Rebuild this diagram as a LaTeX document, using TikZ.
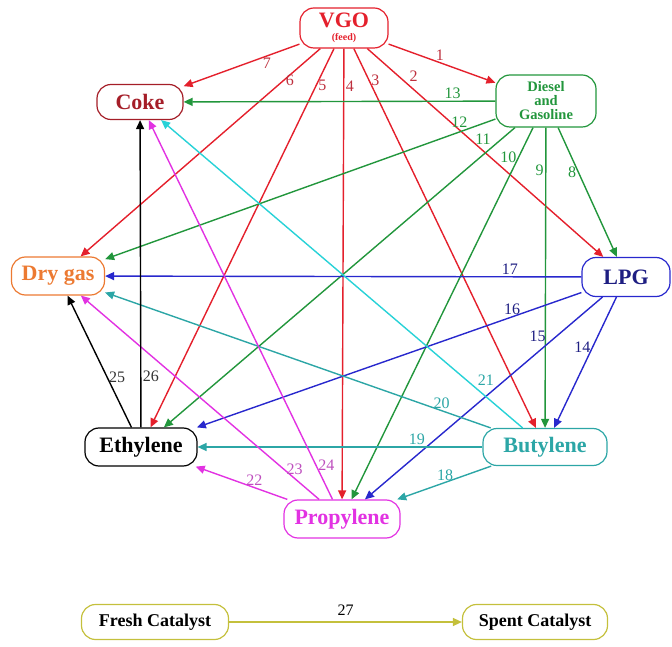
\documentclass[tikz,border=0pt]{standalone}
\usepackage{fontspec}
\setmainfont{Liberation Serif}
\usetikzlibrary{arrows.meta}
\definecolor{vgored}{RGB}{228,32,44}
\definecolor{numred}{RGB}{190,48,62}
\definecolor{cokered}{RGB}{165,30,40}
\definecolor{dgreen}{RGB}{34,150,60}
\definecolor{dryorange}{RGB}{236,122,50}
\definecolor{lpgblue}{RGB}{40,40,205}
\definecolor{lpgnavy}{RGB}{30,30,130}
\definecolor{butteal}{RGB}{44,166,166}
\definecolor{butcyan}{RGB}{40,210,215}
\definecolor{propmag}{RGB}{226,50,226}
\definecolor{nummag}{RGB}{190,80,190}
\definecolor{catyellow}{RGB}{196,192,60}

\begin{document}
\begin{tikzpicture}[x=1pt,y=1pt,line width=1.4pt,>={Triangle[length=9pt,width=8pt]},
  box/.style={draw,rounded corners=14pt,line width=1.2pt,minimum height=38pt,inner sep=2pt,
    font=\bfseries\fontsize{22}{24}\selectfont},
  catbox/.style={box,draw=catyellow,text=black,minimum height=35pt,font=\bfseries\fontsize{18}{20}\selectfont},
  num/.style={font=\fontsize{16}{16}\selectfont,inner sep=1.5pt}]
  \useasboundingbox (0,0) rectangle (672,646);
  \node[box,vgored,minimum width=88pt,minimum height=40pt,align=center] (vgo) at (344,618)
    {VGO\\[-11pt]{\fontsize{10}{10}\selectfont(feed)}};
  \node[box,dgreen,minimum width=100pt,minimum height=52pt,align=center,
    font=\bfseries\fontsize{14.5}{14}\selectfont] (dg) at (546,545) {Diesel\\and\\Gasoline};
  \node[box,cokered,minimum width=86pt,minimum height=35pt] (coke) at (140,544) {Coke};
  \node[box,dryorange,minimum width=93pt] (dry) at (58,370) {Dry gas};
  \node[box,draw=lpgblue,text=lpgnavy,minimum width=88pt,minimum height=39pt] (lpg) at (626,369) {LPG};
  \node[box,black,minimum width=112pt] (eth) at (141,199) {Ethylene};
  \node[box,butteal,minimum width=124pt,minimum height=37pt] (but) at (545,199) {Butylene};
  \node[box,propmag,minimum width=116pt] (prop) at (342,127) {Propylene};
  \node[catbox,minimum width=147pt] (fresh) at (155,24) {Fresh Catalyst};
  \node[catbox,minimum width=145pt] (spent) at (535,24) {Spent Catalyst};

  \draw[->,vgored,text=numred] (vgo) -- (dg) node[num,pos=.48,above]{1};
  \draw[->,vgored,text=numred] (vgo) -- (lpg) node[num,pos=.17,above right]{2};
  \draw[->,vgored,text=numred] (vgo) -- (but) node[num,pos=.084,right]{3};
  \draw[->,vgored,text=numred] (vgo) -- (prop) node[num,pos=.084,right]{4};
  \draw[->,vgored,text=numred] (vgo) -- (eth) node[num,pos=.097,right]{5};
  \draw[->,vgored,text=numred] (vgo) -- (dry) node[num,pos=.153,right]{6};
  \draw[->,vgored,text=numred] (vgo) -- (coke) node[num,pos=.28,below]{7};

  \draw[->,dgreen] (dg) -- (lpg) node[num,pos=.344,left]{8};
  \draw[->,dgreen] (dg) -- (but) node[num,pos=.143,left]{9};
  \draw[->,dgreen] (dg) -- (prop) node[num,pos=.08,left]{10};
  \draw[->,dgreen] (dg) -- (eth) node[num,pos=.063,above left]{11};
  \draw[->,dgreen] (dg) -- (dry) node[num,pos=.092,above=2pt]{12};
  \draw[->,dgreen] (dg) -- (coke) node[num,pos=.137,above]{13};

  \draw[->,lpgblue,text=lpgnavy] (lpg) -- (but) node[num,pos=.383,left]{14};
  \draw[->,lpgblue,text=lpgnavy] (lpg) -- (prop) node[num,pos=.23,above left]{15};
  \draw[->,lpgblue,text=lpgnavy] (lpg) -- (eth) node[num,pos=.18,above]{16};
  \draw[->,lpgblue,text=lpgnavy] (lpg) -- (dry) node[num,pos=.15,above]{17};

  \draw[->,butteal] (but) -- (prop) node[num,pos=.49,above]{18};
  \draw[->,butteal] (but) -- (eth) node[num,pos=.23,above]{19};
  \draw[->,butteal] (but) -- (dry) node[num,pos=.127,above]{20};
  \draw[->,butcyan,text=butteal] (but) -- (coke) node[num,pos=.13,above right]{21};

  \draw[->,propmag,text=nummag] (prop) -- (eth) node[num,pos=.36,above]{22};
  \draw[->,propmag,text=nummag] (prop) -- (dry) node[num,pos=.146,right]{23};
  \draw[->,propmag,text=nummag] (prop) -- (coke) node[num,pos=.089,right]{24};

  \draw[->,black,text=black!80] (eth) -- (dry) node[num,pos=.383,right]{25};
  \draw[->,black,text=black!80] (eth) -- (coke) node[num,pos=.166,right]{26};

  \draw[->,catyellow,text=black] (fresh) -- (spent) node[num,pos=.5,above=4pt]{27};
\end{tikzpicture}
\end{document}
